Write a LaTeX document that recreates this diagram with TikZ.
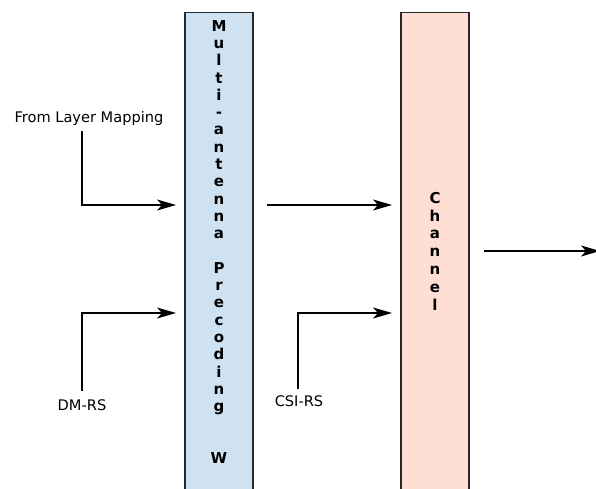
\documentclass[tikz,border=0pt]{standalone}
\usepackage{fontspec}
\setmainfont{DejaVu Sans}
\usepackage{xcolor}
\usepackage{tikz}
\usetikzlibrary{arrows.meta}
\definecolor{precBlue}{RGB}{206, 226, 242}
\definecolor{chanPeach}{RGB}{255, 222, 212}
\definecolor{lineGray}{RGB}{40, 40, 40}
\tikzset{
    block/.style={
        rectangle,
        draw=lineGray,
        line width=1.1pt,
        minimum width=68pt,
        minimum height=520pt,
        anchor=north,
        inner sep=0pt
    },
    stack/.style={
        font=\fontsize{15}{17.3}\selectfont\bfseries,
        align=center,
        anchor=north,
        inner sep=0pt
    },
    flow/.style={
        -{Stealth[length=19pt, width=11pt, inset=5pt]},
        line width=1.2pt,
        color=black
    },
    label/.style={
        font=\fontsize{14.6}{17}\selectfont,
        inner sep=1pt
    }
}
\begin{document}
\begin{tikzpicture}[x=1pt, y=-1pt]
    \clip (0,0) rectangle (596,489);
    \fill[white] (0,0) rectangle (596,489);

    % Blocks
    \node[block, fill=precBlue] (prec) at (219,12) {};
    \node[stack] (precText) at (219,20) {M\\u\\l\\t\\i\\-\\a\\n\\t\\e\\n\\n\\a\\~\\P\\r\\e\\c\\o\\d\\i\\n\\g\\~\\~\\W};
    \node[block, fill=chanPeach] (chan) at (435,12) {};
    \node[stack, font=\fontsize{15}{17.8}\selectfont\bfseries] (chanText) at (435,192) {C\\h\\a\\n\\n\\e\\l};

    % Inputs
    \node[label] (layer) at (89,118) {From Layer Mapping};
    \node[label] (dmrs) at (82,405) {DM-RS};
    \node[label] (csirs) at (299,401) {CSI-RS};

    \coordinate (layerIn) at (176,205);
    \coordinate (dmrsIn) at (176,313);
    \coordinate (precOut) at (267,205);
    \coordinate (chanIn) at (392,205);
    \coordinate (csiIn) at (392,313);
    \coordinate (chanOut) at (484,251);
    \coordinate (rxEnd) at (600,251);

    \draw[flow] (layer.south -| 82,0) ++(0,5) |- (layerIn);
    \draw[flow] (dmrs.north -| 82,0) ++(0,-7) |- (dmrsIn);
    \draw[flow] (csirs.north -| 298,0) ++(0,-5) |- (csiIn);
    \draw[flow] (precOut) -- (chanIn);
    \draw[flow] (chanOut) -- (rxEnd);

\end{tikzpicture}
\end{document}
